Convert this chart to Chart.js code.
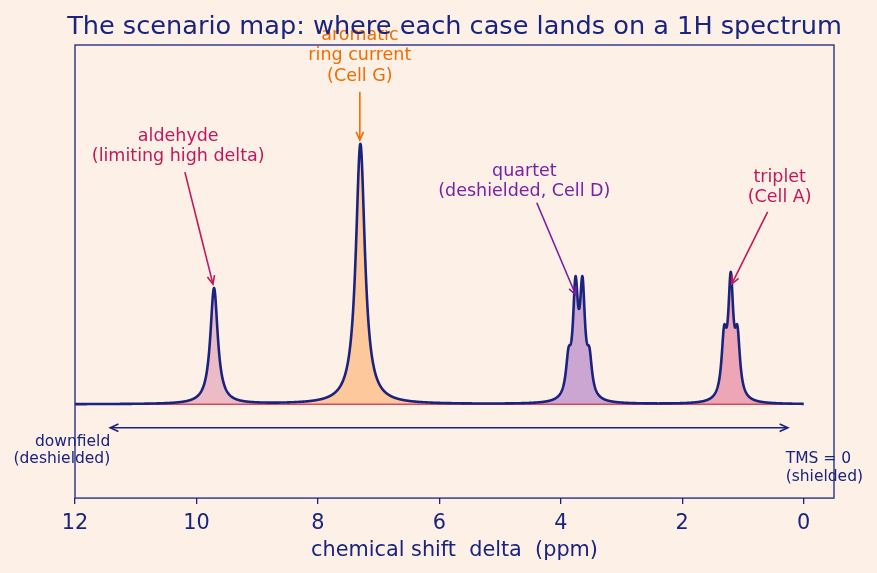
<!DOCTYPE html>
<html>
<head>
<meta charset="utf-8">
<script src="https://cdn.jsdelivr.net/npm/chart.js@4/dist/chart.umd.min.js"></script>
<style>
  html, body { margin: 0; padding: 0; background: #fdf1e7; }
  canvas { display: block; }
</style>
</head>
<body>
<canvas id="nmr" width="877" height="573"></canvas>
<script>
// Peak list: shift (ppm), height (aromatic singlet = 1), half width (ppm)
const peakShift  = [9.71, 7.30, 3.8725, 3.7575, 3.6425, 3.5275, 1.31, 1.20, 1.09];
const peakHeight = [0.445, 1.0, 0.133, 0.40, 0.40, 0.133, 0.217, 0.434, 0.217];
const peakWidth  = [0.074, 0.09, 0.05, 0.05, 0.05, 0.05, 0.05, 0.05, 0.05];

// Shaded regions under each signal
const groupNames  = ['aldehyde', 'aromatic', 'quartet', 'triplet'];
const groupRanges = [[10.7, 8.7], [8.3, 6.3], [4.6, 2.8], [2.0, 0.4]];
const groupFills  = ['#ebbcc6', '#fcc89c', '#cba6d2', '#eda6b6'];

const tickValues = [12, 10, 8, 6, 4, 2, 0];
const shiftRange = [12, 0];

const NAVY = '#1a237e';
const FONT = "'DejaVu Sans', sans-serif";

// Annotations: label lines, colour, text anchor (first baseline), arrow start and tip, in data units
const notes = [
  { lines: ['aldehyde', '(limiting high delta)'], color: '#c2185b', at: [10.30, 1.012], from: [10.19, 0.892], to: [9.728, 0.462] },
  { lines: ['aromatic', 'ring current', '(Cell G)'], color: '#ef6c00', at: [7.309, 1.401], from: [7.309, 1.200], to: [7.309, 1.015] },
  { lines: ['quartet', '(deshielded, Cell D)'], color: '#7b1fa2', at: [4.60, 0.877], from: [4.395, 0.774], to: [3.753, 0.420] },
  { lines: ['triplet', '(Cell A)'], color: '#c2185b', at: [0.395, 0.855], from: [0.593, 0.739], to: [1.185, 0.462] }
];

// Lorentzian line shape for the peak list above
function intensity(x) {
  let y = 0;
  for (let i = 0; i < peakShift.length; i++) {
    const d = (x - peakShift[i]) / peakWidth[i];
    y += peakHeight[i] / (1 + d * d);
  }
  return y;
}

function sample(from, to, step) {
  const pts = [];
  for (let x = from; x >= to - 1e-9; x -= step) pts.push({ x: x, y: intensity(x) });
  return pts;
}

const datasets = [{
  data: sample(shiftRange[0], shiftRange[1], 0.005),
  borderColor: NAVY,
  borderWidth: 2.6,
  fill: false,
  order: 0
}, {
  data: [{ x: shiftRange[0], y: 0 }, { x: shiftRange[1], y: 0 }],
  borderColor: '#d64a5c',
  borderWidth: 1.5,
  fill: false,
  order: 1
}];

groupNames.forEach((name, i) => {
  datasets.push({
    label: name,
    data: sample(groupRanges[i][0], groupRanges[i][1], 0.005),
    borderWidth: 0,
    borderColor: 'rgba(0,0,0,0)',
    backgroundColor: groupFills[i],
    fill: 'origin',
    order: 2
  });
});

function arrow(ctx, x1, y1, x2, y2, color, head1) {
  ctx.save();
  ctx.strokeStyle = color;
  ctx.lineWidth = 1.6;
  ctx.beginPath();
  ctx.moveTo(x1, y1);
  ctx.lineTo(x2, y2);
  ctx.stroke();
  const drawHead = (tx, ty, ang) => {
    const len = 9, spread = 0.42;
    ctx.beginPath();
    ctx.moveTo(tx - len * Math.cos(ang - spread), ty - len * Math.sin(ang - spread));
    ctx.lineTo(tx, ty);
    ctx.lineTo(tx - len * Math.cos(ang + spread), ty - len * Math.sin(ang + spread));
    ctx.stroke();
  };
  const a = Math.atan2(y2 - y1, x2 - x1);
  drawHead(x2, y2, a);
  if (head1) drawHead(x1, y1, a + Math.PI);
  ctx.restore();
}

const overlay = {
  id: 'overlay',
  afterDraw(chart) {
    const { ctx, chartArea: a, scales: { x, y } } = chart;
    ctx.save();
    // frame
    ctx.strokeStyle = NAVY;
    ctx.lineWidth = 1.3;
    ctx.strokeRect(a.left, a.top, a.right - a.left, a.bottom - a.top);

    // annotations
    ctx.font = '17.5px ' + FONT;
    ctx.textAlign = 'center';
    ctx.textBaseline = 'alphabetic';
    notes.forEach(n => {
      ctx.fillStyle = n.color;
      const tx = x.getPixelForValue(n.at[0]);
      const ty = y.getPixelForValue(n.at[1]);
      n.lines.forEach((t, k) => ctx.fillText(t, tx, ty + k * 20.5));
      arrow(ctx, x.getPixelForValue(n.from[0]), y.getPixelForValue(n.from[1]),
        x.getPixelForValue(n.to[0]), y.getPixelForValue(n.to[1]), n.color, false);
    });

    // downfield / upfield direction
    const ay = y.getPixelForValue(-0.09);
    const xl = x.getPixelForValue(11.42), xr = x.getPixelForValue(0.26);
    arrow(ctx, xl, ay, xr, ay, NAVY, true);
    ctx.font = '15.5px ' + FONT;
    ctx.fillStyle = NAVY;
    ctx.textAlign = 'right';
    ctx.fillText('downfield', xl, ay + 18);
    ctx.fillText('(deshielded)', xl, ay + 35);
    ctx.textAlign = 'left';
    const tl = x.getPixelForValue(0.296);
    ctx.fillText('TMS = 0', tl, ay + 35);
    ctx.fillText('(shielded)', tl, ay + 53);

    // title, over the plot frame
    ctx.font = '25.6px ' + FONT;
    ctx.textAlign = 'center';
    ctx.fillStyle = NAVY;
    ctx.fillText('The scenario map: where each case lands on a 1H spectrum', (a.left + a.right) / 2, 34);
    ctx.restore();
  }
};

new Chart(document.getElementById('nmr').getContext('2d'), {
  type: 'line',
  data: { datasets: datasets },
  options: {
    responsive: false,
    animation: false,
    devicePixelRatio: 1,
    parsing: false,
    layout: { padding: { left: 75, right: 43, top: 45, bottom: 6 } },
    elements: { point: { radius: 0 }, line: { tension: 0.05, borderJoinStyle: 'round' } },
    plugins: { legend: { display: false }, tooltip: { enabled: false }, title: { display: false } },
    scales: {
      x: {
        type: 'linear',
        reverse: true,
        min: -0.5,
        max: 12,
        afterBuildTicks: s => { s.ticks = tickValues.map(v => ({ value: v })); },
        ticks: { color: NAVY, font: { family: FONT, size: 20.8 }, padding: 7, maxRotation: 0 },
        grid: { drawOnChartArea: false, drawTicks: true, tickLength: 6, color: NAVY, lineWidth: 1.3 },
        border: { display: false },
        title: { display: true, text: 'chemical shift  delta  (ppm)', color: NAVY, font: { family: FONT, size: 20.8 }, padding: { top: -5, bottom: 4 } }
      },
      y: {
        type: 'linear',
        display: false,
        min: -0.36,
        max: 1.38
      }
    }
  },
  plugins: [overlay]
});
</script>
</body>
</html>
